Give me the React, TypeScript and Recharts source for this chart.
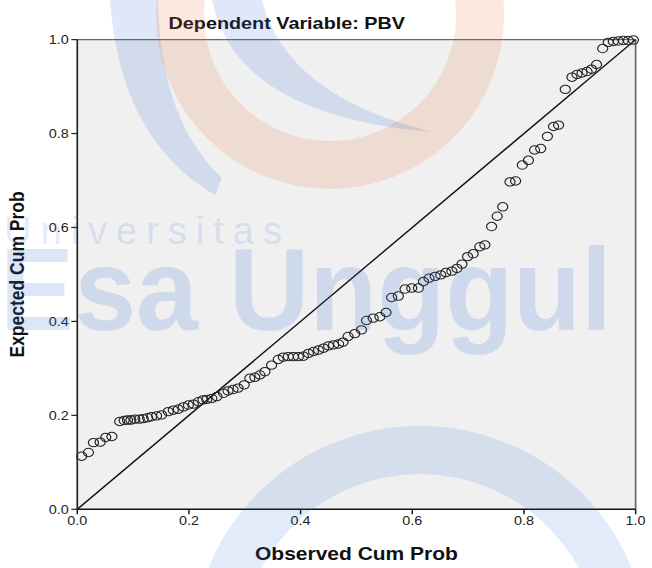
import {
  ScatterChart,
  Scatter,
  XAxis,
  YAxis,
  CartesianGrid,
  ReferenceLine,
} from "recharts";

// observed cumulative probability (x) vs expected cumulative probability (y)
const observed = [
  0.008, 0.02, 0.029, 0.041, 0.051, 0.062, 0.076, 0.084, 0.09, 0.096, 0.103,
  0.111, 0.118, 0.126, 0.133, 0.142, 0.151, 0.163, 0.172, 0.181, 0.19, 0.199,
  0.208, 0.217, 0.225, 0.232, 0.241, 0.25, 0.262, 0.27, 0.279, 0.288, 0.299,
  0.309, 0.318, 0.327, 0.336, 0.348, 0.36, 0.369, 0.378, 0.387, 0.396, 0.405,
  0.414, 0.423, 0.432, 0.441, 0.45, 0.459, 0.468, 0.476, 0.485, 0.497, 0.509,
  0.518, 0.53, 0.542, 0.553, 0.563, 0.575, 0.587, 0.599, 0.611, 0.62, 0.63,
  0.641, 0.651, 0.66, 0.671, 0.68, 0.689, 0.699, 0.709, 0.721, 0.73, 0.742,
  0.752, 0.762, 0.775, 0.785, 0.797, 0.808, 0.819, 0.83, 0.842, 0.853, 0.862,
  0.874, 0.886, 0.895, 0.904, 0.913, 0.921, 0.93, 0.941, 0.951, 0.96, 0.969,
  0.978, 0.987, 0.996,
];
const expected = [
  0.113, 0.121, 0.142, 0.143, 0.153, 0.155, 0.187, 0.189, 0.19, 0.19, 0.192,
  0.192, 0.193, 0.195, 0.197, 0.199, 0.201, 0.208, 0.211, 0.213, 0.218, 0.222,
  0.224, 0.229, 0.233, 0.234, 0.236, 0.24, 0.247, 0.252, 0.255, 0.258, 0.265,
  0.279, 0.281, 0.286, 0.293, 0.307, 0.319, 0.324, 0.325, 0.325, 0.325, 0.326,
  0.332, 0.336, 0.339, 0.343, 0.348, 0.35, 0.352, 0.356, 0.368, 0.374, 0.382,
  0.402, 0.407, 0.41, 0.419, 0.451, 0.454, 0.469, 0.471, 0.471, 0.485, 0.492,
  0.496, 0.499, 0.504, 0.507, 0.513, 0.522, 0.538, 0.544, 0.559, 0.563, 0.602,
  0.624, 0.644, 0.697, 0.699, 0.733, 0.743, 0.765, 0.768, 0.794, 0.815, 0.818,
  0.894, 0.92, 0.926, 0.929, 0.932, 0.937, 0.947, 0.981, 0.994, 0.996, 0.997,
  0.998, 0.998, 0.999,
];
const axisTicks = [0, 0.2, 0.4, 0.6, 0.8, 1.0];

const points = observed.map((x, i) => ({ x, y: expected[i] }));

// the source picture is stretched horizontally; draw narrow, then scale
const STRETCH = 1.2;
const W = 652 / STRETCH;
const H = 568;
const FONT = '"Liberation Sans", Arial, sans-serif';

function Ring(props: any) {
  const { cx, cy } = props;
  if (cx == null || cy == null) return null;
  return (
    <circle cx={cx} cy={cy} r={4.2} fill="none" stroke="#222" strokeWidth={1} />
  );
}

function Watermark() {
  return (
    <svg
      width={652}
      height={568}
      style={{ position: "absolute", left: 0, top: 0, pointerEvents: "none" }}
    >
      <path
        d="M 110 0 Q 120 140 215 195 L 222 178 Q 160 120 158 0 Z"
        fill="#2f6fd6"
        opacity={0.16}
      />
      <circle
        cx={330}
        cy={15}
        r={150}
        fill="none"
        stroke="#e8743b"
        strokeWidth={48}
        opacity={0.16}
      />
      <path
        d="M 212 0 Q 235 115 432 132 Q 285 95 262 0 Z"
        fill="#2f6fd6"
        opacity={0.16}
      />
      <circle
        cx={420}
        cy={655}
        r={205}
        fill="none"
        stroke="#2f6fd6"
        strokeWidth={48}
        opacity={0.14}
      />
      <text
        x={4}
        y={244}
        fontFamily={FONT}
        fontSize={38}
        letterSpacing={9}
        fill="#2f6fd6"
        opacity={0.13}
      >
        Universitas
      </text>
      <text
        x={0}
        y={330}
        fontFamily={FONT}
        fontSize={116}
        fontWeight="bold"
        fill="#2f6fd6"
        opacity={0.17}
        textLength={612}
        lengthAdjust="spacingAndGlyphs"
      >
        Esa Unggul
      </text>
    </svg>
  );
}

export default function App() {
  const plotLeft = 64.4;
  const plotRight = W - 529.7;

  return (
    <div
      style={{
        position: "absolute",
        left: 0,
        top: 0,
        width: 652,
        height: 568,
        background: "#fff",
        overflow: "hidden",
      }}
    >
      <div
        style={{
          position: "absolute",
          left: 0,
          top: 0,
          width: W,
          height: H,
          transform: `scaleX(${STRETCH})`,
          transformOrigin: "0 0",
        }}
      >
        <ScatterChart
          width={W}
          height={H}
          margin={{ top: 39.6, right: plotRight, bottom: 0, left: 0 }}
        >
          <CartesianGrid horizontal={false} vertical={false} fill="#f0f0f0" />
          <XAxis
            type="number"
            dataKey="x"
            domain={[0, 1]}
            ticks={axisTicks}
            tickFormatter={(v: number) => v.toFixed(1)}
            height={58.7}
            tickSize={5}
            tickMargin={2}
            axisLine={{ stroke: "#111", strokeWidth: 1.4 }}
            tickLine={{ stroke: "#111", strokeWidth: 1.2 }}
            tick={{ fill: "#222", fontSize: 12, fontFamily: FONT }}
          />
          <YAxis
            type="number"
            dataKey="y"
            domain={[0, 1]}
            ticks={axisTicks}
            tickFormatter={(v: number) => v.toFixed(1)}
            width={plotLeft}
            tickSize={5}
            tickMargin={2}
            axisLine={{ stroke: "#222", strokeWidth: 1.4 }}
            tickLine={{ stroke: "#222", strokeWidth: 1.2 }}
            tick={{ fill: "#222", fontSize: 12, fontFamily: FONT }}
          />
          <ReferenceLine y={1} stroke="#666" strokeWidth={1.4} />
          <ReferenceLine x={1} stroke="#666" strokeWidth={1.4} />
          <ReferenceLine
            segment={[
              { x: 0, y: 0 },
              { x: 1, y: 1 },
            ]}
            stroke="#111"
            strokeWidth={1.3}
          />
          <Scatter data={points} shape={Ring} isAnimationActive={false} />
        </ScatterChart>
        <svg
          width={W}
          height={H}
          style={{ position: "absolute", left: 0, top: 0, pointerEvents: "none" }}
        >
          <text
            x={239}
            y={29}
            textAnchor="middle"
            fontFamily={FONT}
            fontSize={16.5}
            fontWeight="bold"
            fill="#111"
          >
            Dependent Variable: PBV
          </text>
          <text
            x={(plotLeft + 529.7) / 2}
            y={560}
            textAnchor="middle"
            fontFamily={FONT}
            fontSize={17.5}
            fontWeight="bold"
            fill="#111"
          >
            Observed Cum Prob
          </text>
          <text
            transform={`translate(20, ${(39.6 + 509.3) / 2}) rotate(-90)`}
            textAnchor="middle"
            fontFamily={FONT}
            fontSize={17.5}
            fontWeight="bold"
            fill="#111"
          >
            Expected Cum Prob
          </text>
        </svg>
      </div>
      <Watermark />
    </div>
  );
}
